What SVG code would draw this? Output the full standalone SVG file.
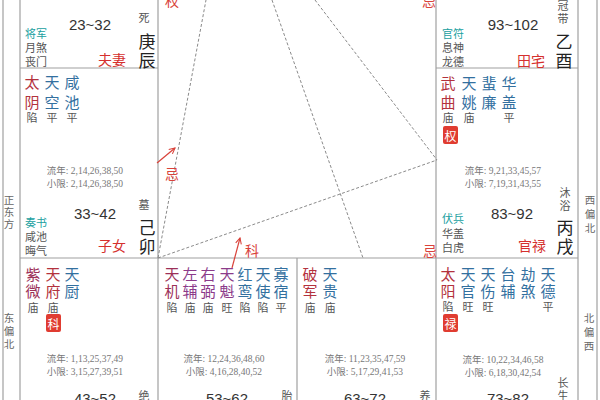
<svg xmlns="http://www.w3.org/2000/svg" width="600" height="400" viewBox="0 0 600 400">
<style>
text{font-family:"Noto Sans CJK SC","Noto Sans",sans-serif;dominant-baseline:central}
.ln{stroke:#a0a0a0;stroke-width:1.2;fill:none}
.dash{stroke:#8a8a8a;stroke-width:1;stroke-dasharray:3 2;fill:none}
.st{font-size:15px;text-anchor:middle}
.m{fill:#b3323d}.b{fill:#33709f}.p{fill:#8c3b8a}.z{fill:#9c3058}
.br{font-size:11px;fill:#555;text-anchor:middle}
.sm{font-family:"Liberation Serif","Noto Sans CJK SC",serif;font-size:9.5px;fill:#777;text-anchor:middle}
.age{font-family:"Liberation Sans",sans-serif;font-size:15px;fill:#333;text-anchor:middle}
.gz{font-size:17px;fill:#222;text-anchor:middle}
.pal{font-size:14px;fill:#d5302e;text-anchor:middle}
.god{font-size:11px;fill:#20a0a0}
.god2{font-size:11px;fill:#555}
.cs{font-size:11px;fill:#555;text-anchor:middle}
.dir{font-size:10.5px;fill:#666;text-anchor:middle}
.red{font-size:14px;fill:#d9423a;text-anchor:middle}
.badge{fill:#e03c31}
.bt{font-size:12px;fill:#fff;text-anchor:middle}
.arr{stroke:#d9423a;stroke-width:1.2;fill:none}
</style>
<defs>
<marker id="ah" viewBox="0 0 10 10" refX="9" refY="5" markerWidth="6" markerHeight="6" orient="auto">
<path d="M1,1 L9,5 L1,9" fill="none" stroke="#d9423a" stroke-width="1.5"/>
</marker>
</defs>
<rect width="600" height="400" fill="#fff"/>

<g id="grid">
<line class="ln" x1="3" y1="0" x2="3" y2="400"/>
<line class="ln" x1="20" y1="0" x2="20" y2="400"/>
<line class="ln" x1="158" y1="0" x2="158" y2="400"/>
<line class="ln" x1="436" y1="0" x2="436" y2="400"/>
<line class="ln" x1="578" y1="0" x2="578" y2="400"/>
<line class="ln" x1="597" y1="0" x2="597" y2="400"/>
<line class="ln" x1="297" y1="258" x2="297" y2="400"/>
<line class="ln" x1="20" y1="68" x2="158" y2="68"/>
<line class="ln" x1="436" y1="68" x2="578" y2="68"/>
<line class="ln" x1="20" y1="258" x2="578" y2="258"/>
</g>

<g id="connectors">
<line class="dash" x1="158" y1="258" x2="206" y2="0"/>
<line class="dash" x1="158" y1="258" x2="437" y2="160"/>
<line class="dash" x1="272" y1="0" x2="363" y2="258"/>
<line class="dash" x1="315" y1="0" x2="437" y2="160"/>
<line class="arr" x1="157" y1="163" x2="175" y2="148" marker-end="url(#ah)"/>
<line class="arr" x1="232" y1="268" x2="240" y2="238" marker-end="url(#ah)"/>
<text class="red" x="172" y="0">权</text>
<text class="red" x="429" y="0">忌</text>
<text class="red" x="172" y="173">忌</text>
<text class="red" x="252" y="250">科</text>
<text class="red" x="430" y="250">忌</text>
</g>

<g id="directions">
<text class="dir" x="9" y="199">正</text><text class="dir" x="9" y="211">东</text><text class="dir" x="9" y="223">方</text>
<text class="dir" x="9" y="317">东</text><text class="dir" x="9" y="330">偏</text><text class="dir" x="9" y="343">北</text>
<text class="dir" x="590" y="199">西</text><text class="dir" x="590" y="213">偏</text><text class="dir" x="590" y="227">北</text>
<text class="dir" x="589" y="317">北</text><text class="dir" x="589" y="331">偏</text><text class="dir" x="589" y="345">西</text>
</g>

<g id="cell-fuqi">
<text class="age" x="90" y="24">23~32</text>
<text class="cs" x="144" y="17">死</text>
<text class="gz" x="147" y="40">庚</text><text class="gz" x="147" y="59">辰</text>
<text class="god" x="25" y="33">将军</text>
<text class="god2" x="25" y="47">月煞</text>
<text class="god2" x="25" y="61">丧门</text>
<text class="pal" x="112" y="59">夫妻</text>
</g>

<g id="cell-zinv">
<text class="st m" x="32" y="81">太</text><text class="st m" x="32" y="101">阴</text>
<text class="st b" x="52" y="81">天</text><text class="st b" x="52" y="101">空</text>
<text class="st b" x="72" y="81">咸</text><text class="st b" x="72" y="101">池</text>
<text class="br" x="32" y="117">陷</text><text class="br" x="52" y="117">平</text><text class="br" x="72" y="117">平</text>
<text class="sm" x="85" y="171">流年: 2,14,26,38,50</text>
<text class="sm" x="85" y="184">小限: 2,14,26,38,50</text>
<text class="age" x="95" y="213">33~42</text>
<text class="cs" x="144" y="204">墓</text>
<text class="gz" x="147" y="226">己</text><text class="gz" x="147" y="245">卯</text>
<text class="god" x="25" y="222">奏书</text>
<text class="god2" x="25" y="236">咸池</text>
<text class="god2" x="25" y="250">晦气</text>
<text class="pal" x="112" y="245">子女</text>
</g>

<g id="cell-ziwei">
<text class="st z" x="33" y="273">紫</text><text class="st z" x="33" y="290">微</text>
<text class="st m" x="53" y="273">天</text><text class="st m" x="53" y="290">府</text>
<text class="st b" x="72" y="273">天</text><text class="st b" x="72" y="290">厨</text>
<text class="br" x="33" y="307">庙</text><text class="br" x="53" y="307">庙</text>
<rect class="badge" x="46" y="314" width="15" height="18" rx="2"/>
<text class="bt" x="53.5" y="323">科</text>
<text class="sm" x="85" y="359">流年: 1,13,25,37,49</text>
<text class="sm" x="85" y="372">小限: 3,15,27,39,51</text>
<text class="age" x="95" y="398">43~52</text>
<text class="cs" x="144" y="395">绝</text>
</g>

<g id="cell-tianji">
<text class="st z" x="172" y="273">天</text><text class="st z" x="172" y="290">机</text>
<text class="st p" x="190" y="273">左</text><text class="st p" x="190" y="290">辅</text>
<text class="st p" x="208" y="273">右</text><text class="st p" x="208" y="290">弼</text>
<text class="st p" x="227" y="273">天</text><text class="st p" x="227" y="290">魁</text>
<text class="st b" x="245" y="273">红</text><text class="st b" x="245" y="290">鸾</text>
<text class="st b" x="263" y="273">天</text><text class="st b" x="263" y="290">使</text>
<text class="st b" x="281" y="273">寡</text><text class="st b" x="281" y="290">宿</text>
<text class="br" x="172" y="307">陷</text><text class="br" x="190" y="307">庙</text><text class="br" x="208" y="307">庙</text><text class="br" x="227" y="307">旺</text><text class="br" x="245" y="307">陷</text><text class="br" x="263" y="307">陷</text><text class="br" x="281" y="307">平</text>
<text class="sm" x="224" y="359">流年: 12,24,36,48,60</text>
<text class="sm" x="224" y="372">小限: 4,16,28,40,52</text>
<text class="age" x="227" y="398">53~62</text>
<text class="cs" x="287" y="395">胎</text>
</g>

<g id="cell-pojun">
<text class="st m" x="310" y="273">破</text><text class="st m" x="310" y="290">军</text>
<text class="st b" x="330" y="273">天</text><text class="st b" x="330" y="290">贵</text>
<text class="br" x="310" y="307">庙</text><text class="br" x="330" y="307">庙</text>
<text class="sm" x="365" y="359">流年: 11,23,35,47,59</text>
<text class="sm" x="365" y="372">小限: 5,17,29,41,53</text>
<text class="age" x="365" y="398">63~72</text>
<text class="cs" x="425" y="395">养</text>
</g>

<g id="cell-taiyang">
<text class="st m" x="448" y="273">太</text><text class="st m" x="448" y="290">阳</text>
<text class="st b" x="468" y="273">天</text><text class="st b" x="468" y="290">官</text>
<text class="st b" x="488" y="273">天</text><text class="st b" x="488" y="290">伤</text>
<text class="st b" x="508" y="273">台</text><text class="st b" x="508" y="290">辅</text>
<text class="st b" x="528" y="273">劫</text><text class="st b" x="528" y="290">煞</text>
<text class="st b" x="548" y="273">天</text><text class="st b" x="548" y="290">德</text>
<text class="br" x="448" y="306">陷</text><text class="br" x="468" y="306">旺</text><text class="br" x="488" y="306">旺</text><text class="br" x="548" y="306">平</text>
<rect class="badge" x="443" y="314" width="15" height="18" rx="2"/>
<text class="bt" x="450.5" y="323">禄</text>
<text class="sm" x="503" y="360">流年: 10,22,34,46,58</text>
<text class="sm" x="503" y="373">小限: 6,18,30,42,54</text>
<text class="age" x="508" y="398">73~82</text>
<text class="cs" x="563" y="382">长</text><text class="cs" x="563" y="395">生</text>
</g>

<g id="cell-tianzhai">
<text class="age" x="513" y="24">93~102</text>
<text class="cs" x="563" y="5">冠</text><text class="cs" x="563" y="18">带</text>
<text class="gz" x="564" y="40">乙</text><text class="gz" x="564" y="59">酉</text>
<text class="god" x="442" y="33">官符</text>
<text class="god2" x="442" y="47">息神</text>
<text class="god2" x="442" y="61">龙德</text>
<text class="pal" x="531" y="60">田宅</text>
</g>

<g id="cell-guanlu">
<text class="st m" x="448" y="82">武</text><text class="st m" x="448" y="101">曲</text>
<text class="st b" x="469" y="82">天</text><text class="st b" x="469" y="101">姚</text>
<text class="st b" x="489" y="82">蜚</text><text class="st b" x="489" y="101">廉</text>
<text class="st b" x="509" y="82">华</text><text class="st b" x="509" y="101">盖</text>
<text class="br" x="448" y="117">庙</text><text class="br" x="469" y="117">庙</text><text class="br" x="509" y="117">平</text>
<rect class="badge" x="443" y="126" width="15" height="18" rx="2"/>
<text class="bt" x="450.5" y="135">权</text>
<text class="sm" x="503" y="171">流年: 9,21,33,45,57</text>
<text class="sm" x="503" y="184">小限: 7,19,31,43,55</text>
<text class="cs" x="565" y="192">沐</text><text class="cs" x="565" y="205">浴</text>
<text class="age" x="512" y="213">83~92</text>
<text class="gz" x="565" y="226">丙</text><text class="gz" x="565" y="245">戌</text>
<text class="god" x="442" y="218">伏兵</text>
<text class="god2" x="442" y="233">华盖</text>
<text class="god2" x="442" y="247">白虎</text>
<text class="pal" x="532" y="245">官禄</text>
</g>
</svg>
